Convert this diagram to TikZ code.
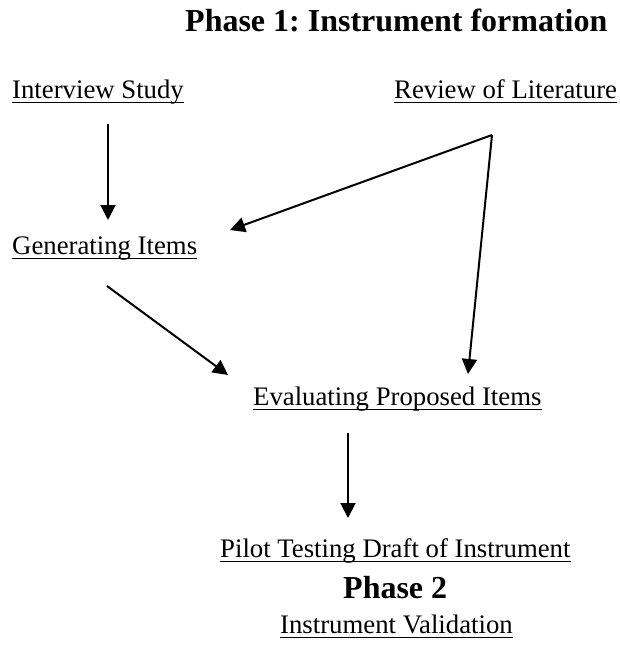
\documentclass[tikz,border=0pt]{standalone}
\usepackage{fontspec}
\setmainfont{Liberation Serif}
\usetikzlibrary{arrows.meta}
\frenchspacing

\begin{document}
\begin{tikzpicture}[x=1pt,y=-1pt,
		txt/.style={inner sep=0pt,anchor=base west,font=\fontsize{26.75}{32}\selectfont},
		head/.style={inner sep=0pt,anchor=base west,font=\fontsize{32}{38}\selectfont\bfseries},
		arr/.style={line width=2pt,-{Triangle[length=15pt,width=15pt]}}]
			\useasboundingbox (0,0) rectangle (620,657);
			
			\node[head] (phaseone) at (185,31){Phase 1: Instrument formation};
			\node[txt] (interview) at (12,98){Interview Study};
			\node[txt] (review) at (394,98){Review of Literature};
			\node[txt] (generating) at (12,254){Generating Items};
			\node[txt] (evaluating) at (253,405){Evaluating Proposed Items};
			\node[txt] (pilot) at (220,557){Pilot Testing Draft of Instrument};
			\node[head] (phasetwo) at (343,598){Phase 2};
			\node[txt] (validation) at (280,633){Instrument Validation};
			
			% underlines
			\foreach \n in {interview,review,generating,evaluating,pilot,validation}
			\draw[line width=1.8pt] ([yshift=-4.5pt]\n.base west) -- ([yshift=-4.5pt]\n.base east);
			
			\coordinate (isout) at (108,124);
			\coordinate (giin) at (108,220);
			\coordinate (apex) at (492,135);
			\coordinate (gitop) at (230,230);
			\coordinate (giout) at (107,286);
			\coordinate (evleft) at (228,375);
			\coordinate (evtop) at (468,374);
			\coordinate (evout) at (348,433);
			\coordinate (ptin) at (348,518);
			
			\draw[arr] (isout) -- (giin);
			\draw[arr] (apex) -- (gitop);
			\draw[arr] (apex) -- (evtop);
			\draw[arr] (giout) -- (evleft);
			\draw[arr] (evout) -- (ptin);
		
		\end{tikzpicture}
\end{document}
